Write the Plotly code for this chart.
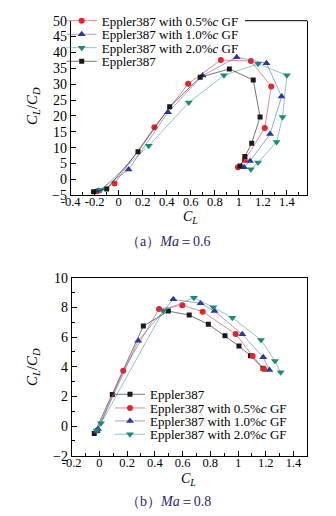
import plotly.graph_objects as go

W, H = 336, 516

# ---------------- (a) Ma = 0.6 ----------------
a_labels = ["Eppler387 with 0.5%<i>c</i> GF", "Eppler387 with 1.0%<i>c</i> GF",
            "Eppler387 with 2.0%<i>c</i> GF", "Eppler387"]
a_cl_05 = [-0.18, -0.035, 0.297, 0.578, 0.85, 1.10, 1.27, 1.216, 1.049, 0.993]
a_ld_05 = [-3.7, -1.3, 16.4, 30.1, 37.6, 37.3, 29.3, 16.2, 6.1, 3.8]
a_cl_10 = [-0.17, 0.082, 0.411, 0.698, 0.982, 1.23, 1.356, 1.26, 1.093, 1.043]
a_ld_10 = [-3.6, 3.1, 21.2, 32.7, 38.5, 36.6, 26.1, 14.3, 5.8, 3.8]
a_cl_20 = [-0.15, 0.25, 0.583, 0.876, 1.16, 1.40, 1.364, 1.314, 1.16, 1.10]
a_ld_20 = [-3.3, 10.6, 24.2, 32.8, 36.4, 32.8, 19.7, 11.8, 5.3, 3.2]
a_cl_00 = [-0.21, -0.10, 0.16, 0.424, 0.678, 0.921, 1.12, 1.177, 1.107, 1.05, 1.01]
a_ld_00 = [-3.9, -3.0, 8.7, 22.9, 32.2, 34.8, 31.3, 19.7, 11.4, 7.2, 4.2]

# ---------------- (b) Ma = 0.8 ----------------
b_labels = ["Eppler387", "Eppler387 with 0.5%<i>c</i> GF",
            "Eppler387 with 1.0%<i>c</i> GF", "Eppler387 with 2.0%<i>c</i> GF"]
b_cl_00 = [-0.037, 0.093, 0.317, 0.497, 0.648, 0.786, 0.906, 1.007, 1.09, 1.18]
b_ld_00 = [-0.5, 2.12, 6.74, 7.75, 7.48, 6.86, 6.09, 5.39, 4.74, 3.89]
b_cl_05 = [-0.015, 0.172, 0.43, 0.598, 0.745, 0.983, 1.106, 1.187]
b_ld_05 = [-0.3, 3.73, 7.89, 8.14, 7.71, 6.2, 4.72, 3.84]
b_cl_10 = [-0.02, -0.01, 0.28, 0.533, 0.73, 0.83, 1.031, 1.182, 1.226]
b_ld_10 = [-0.35, -0.2, 5.75, 8.54, 8.27, 7.75, 6.18, 4.63, 3.78]
b_cl_20 = [-0.02, 0.011, 0.461, 0.682, 0.822, 0.959, 1.166, 1.267, 1.308]
b_ld_20 = [-0.3, 0.18, 7.78, 8.65, 8.0, 7.3, 5.8, 4.38, 3.62]

x_ticks_a = [-0.4, -0.2, 0, 0.2, 0.4, 0.6, 0.8, 1.0, 1.2, 1.4]
x_ticks_b = [-0.2, 0, 0.2, 0.4, 0.6, 0.8, 1.0, 1.2, 1.4]

RED, BLUE, GREEN, BLACK = "#e3242b", "#2b3a9a", "#1a8a78", "#1a1a1a"
RED_L, BLUE_L, GREEN_L, BLACK_L = ("rgba(200,60,70,0.75)", "rgba(90,100,180,0.75)",
                                   "rgba(70,160,160,0.75)", "rgba(40,40,40,0.8)")
SERIF = "Liberation Serif"

def px_x(p):
    return p / W

def px_y(p):
    return 1 - p / H

fig = go.Figure()

def add(x, y, name, color, lcolor, symbol, size, xa, ya, leg):
    fig.add_trace(go.Scatter(
        x=x, y=y, name=name, mode="lines+markers",
        marker=dict(symbol=symbol, size=size, color=color, line=dict(width=0)),
        line=dict(color=lcolor, width=0.8),
        xaxis=xa, yaxis=ya, legend=leg))

# one legend per entry so the rows can sit as tightly as in the original
add(a_cl_05, a_ld_05, a_labels[0], RED, RED_L, "circle", 6, "x", "y", "legend")
add(a_cl_10, a_ld_10, a_labels[1], BLUE, BLUE_L, "triangle-up", 7, "x", "y", "legend2")
add(a_cl_20, a_ld_20, a_labels[2], GREEN, GREEN_L, "triangle-down", 7, "x", "y", "legend3")
add(a_cl_00, a_ld_00, a_labels[3], BLACK, BLACK_L, "square", 5, "x", "y", "legend4")

add(b_cl_00, b_ld_00, b_labels[0], BLACK, BLACK_L, "square", 5, "x2", "y2", "legend5")
add(b_cl_05, b_ld_05, b_labels[1], RED, RED_L, "circle", 6, "x2", "y2", "legend6")
add(b_cl_10, b_ld_10, b_labels[2], BLUE, BLUE_L, "triangle-up", 7, "x2", "y2", "legend7")
add(b_cl_20, b_ld_20, b_labels[3], GREEN, GREEN_L, "triangle-down", 7, "x2", "y2", "legend8")

def axis(**kw):
    d = dict(showline=True, linecolor="black", linewidth=1, showgrid=False,
             zeroline=False, ticks="inside", ticklen=5, tickwidth=1, automargin=False,
             tickcolor="black", tickfont=dict(family=SERIF, size=14, color="black"))
    d.update(kw)
    return d

xfont = dict(family=SERIF, size=12.5, color="black")
minor_x = dict(dtick=0.1, tick0=0, ticks="inside", ticklen=3, tickcolor="black")

def leg(xp, yp):
    return dict(x=px_x(xp), y=px_y(yp), xanchor="left", yanchor="middle",
                bgcolor="rgba(255,255,255,0)", borderwidth=0,
                font=dict(family=SERIF, size=13, color="black"))

layout_legends = {}
top_rows = [20.7, 34.3, 47.7, 61.3]
bot_rows = [394.3, 408.0, 421.0, 434.3]
for i, r in enumerate(top_rows):
    key = "legend" if i == 0 else f"legend{i + 1}"
    layout_legends[key] = leg(61.7, r)
for i, r in enumerate(bot_rows):
    layout_legends[f"legend{i + 5}"] = leg(110, r)

fig.update_layout(
    width=W, height=H, margin=dict(l=0, r=0, t=0, b=0, autoexpand=False),
    template="none",
    paper_bgcolor="white", plot_bgcolor="white", showlegend=True,
    xaxis=axis(domain=[px_x(70.7), px_x(307.3)], anchor="y", range=[-0.4, 1.57],
               tickvals=x_ticks_a, ticktext=[f"{v:g}" for v in x_ticks_a],
               minor=minor_x, mirror=False, tickfont=xfont, ticklabelstandoff=-5),
    yaxis=axis(domain=[px_y(195.3), px_y(20.7)], anchor="x", range=[-5, 50],
               dtick=5, tick0=0, mirror=True),
    xaxis2=axis(domain=[px_x(71.7), px_x(307.3)], anchor="y2", range=[-0.2, 1.5],
                tickvals=x_ticks_b, ticktext=[f"{v:g}" for v in x_ticks_b],
                minor=minor_x, mirror=True, tickfont=xfont, ticklabelstandoff=-5),
    yaxis2=axis(domain=[px_y(455.7), px_y(277.7)], anchor="x2", range=[-2, 10],
                dtick=2, tick0=0, mirror=True,
                minor=dict(dtick=1, tick0=0, ticks="inside", ticklen=3, tickcolor="black")),
    **layout_legends,
)

# partial top frame of panel (a) (legend sits on the top edge)
fig.add_shape(type="line", xref="paper", yref="paper",
              x0=px_x(245), x1=px_x(307.3), y0=px_y(20.7), y1=px_y(20.7),
              line=dict(color="black", width=1))

ytitle = "<i>C<sub>L</sub></i>/<i>C<sub>D</sub></i>"
xtitle = "<i>C<sub>L</sub></i>"
CAP = "#1e2a66"
for (xp, yp, txt, ang, fs) in [(33, 106, ytitle, -90, 15), (33, 367, ytitle, -90, 15),
                               (190, 217, xtitle, 0, 14), (188, 479, xtitle, 0, 14)]:
    fig.add_annotation(x=px_x(xp), y=px_y(yp), xref="paper", yref="paper", text=txt,
                       showarrow=False, textangle=ang, xanchor="center", yanchor="middle",
                       font=dict(family=SERIF, size=fs, color="black"))

for (yp, txt) in [(242, "（a）<i>Ma</i>＝0.6"), (501, "（b）<i>Ma</i>＝0.8")]:
    fig.add_annotation(x=px_x(168), y=px_y(yp), xref="paper", yref="paper",
                       text=txt, showarrow=False, xanchor="center", yanchor="middle",
                       font=dict(family=SERIF, size=14, color=CAP))

fig.write_html("out.html", config={"displayModeBar": False},
               post_script="document.body.style.margin='0';document.body.style.overflow='hidden';")
